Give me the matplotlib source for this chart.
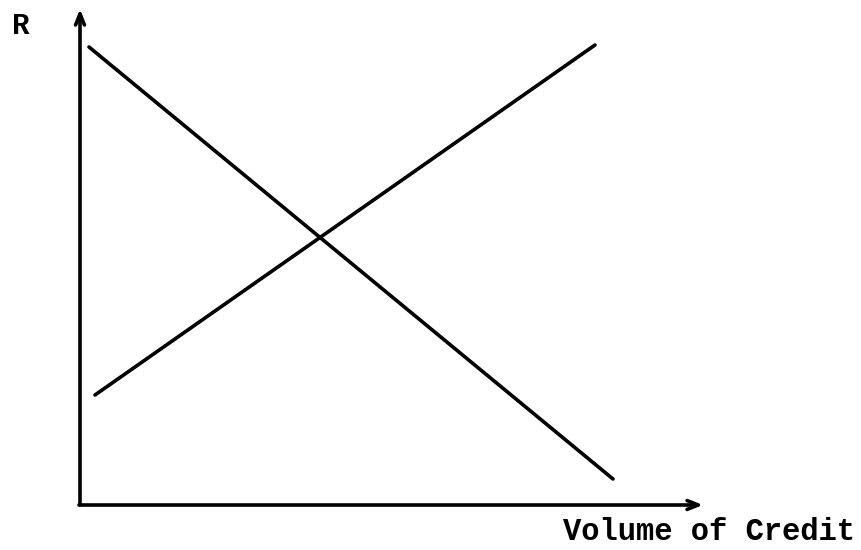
import matplotlib
matplotlib.use("Agg")
import matplotlib.pyplot as plt

# Data (arbitrary units, origin at the axes corner)
demand_x = [9, 533]
demand_y = [458, 26]
supply_x = [15, 515]
supply_y = [110, 460]
x_label = "Volume of Credit"
y_label = "R"

W, H = 862, 550
fig = plt.figure(figsize=(W / 100, H / 100), dpi=100)
# axes: origin at pixel (80, 505), extends to (720, 9)
ax = fig.add_axes([80 / W, (H - 505) / H, 640 / W, 496 / H])
ax.set_xlim(0, 640)
ax.set_ylim(0, 496)
ax.axis("off")

lw = 2.6
ax.plot(demand_x, demand_y, color="black", lw=lw, solid_capstyle="round")
ax.plot(supply_x, supply_y, color="black", lw=lw, solid_capstyle="round")

arrow = dict(arrowstyle="->,head_length=0.8,head_width=0.32", color="black", lw=lw,
             shrinkA=0, shrinkB=0)
ax.annotate("", xy=(0, 496), xytext=(0, 0), xycoords="data", arrowprops=arrow,
            annotation_clip=False)
ax.annotate("", xy=(623, 0), xytext=(-1, 0), xycoords="data", arrowprops=arrow,
            annotation_clip=False)

font = dict(family=["Liberation Mono", "DejaVu Sans Mono"], weight="bold", color="black")
fig.text(855 / W, 1 - 540 / H, x_label, ha="right", va="baseline", fontsize=22, **font)
fig.text(21 / W, 1 - 26 / H, y_label, ha="center", va="center", fontsize=21, **font)

fig.savefig("out.png", dpi=100)
